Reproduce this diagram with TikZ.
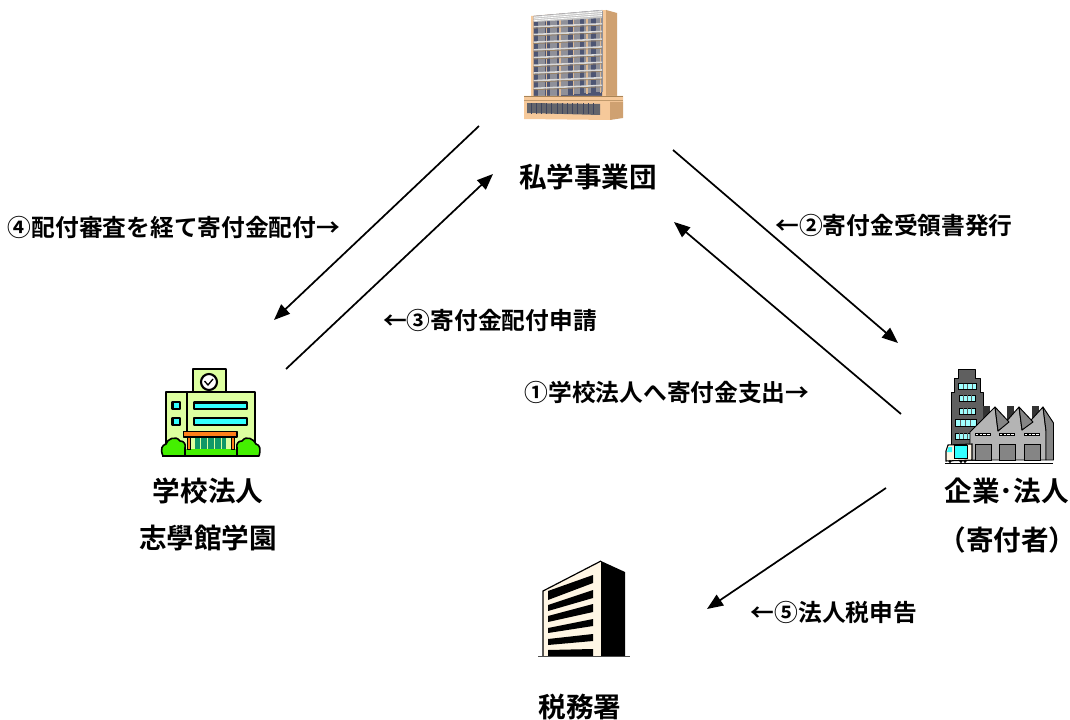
\documentclass[tikz,border=0pt]{standalone}
\usepackage{fontspec}
\usetikzlibrary{arrows.meta,calc}
\setmainfont{Noto Sans CJK JP}[BoldFont={Noto Sans CJK JP Bold}]
\definecolor{tan1}{HTML}{F6C99A}
\definecolor{tan2}{HTML}{CFA171}
\definecolor{tan3}{HTML}{A98457}
\definecolor{winblue}{HTML}{4D5573}
\definecolor{wingray}{HTML}{8F9099}
\definecolor{schoolbody}{HTML}{DDFFA0}
\definecolor{cyanwin}{HTML}{33FFFF}
\definecolor{orangeroof}{HTML}{FF7F1A}
\definecolor{doorgreen}{HTML}{109868}
\definecolor{bush}{HTML}{44F000}
\definecolor{fgray}{HTML}{5F5F5F}
\definecolor{fgray2}{HTML}{B4B4B4}
\definecolor{fgray3}{HTML}{858585}
\definecolor{lightcyan}{HTML}{9FFFFF}
\definecolor{cream}{HTML}{FFF6E4}
\tikzset{
  x=0.75pt,y=-0.75pt,
  labeltext/.style={font=\bfseries\fontsize{17.8pt}{20pt}\selectfont,inner sep=0pt,anchor=center},
  captext/.style={font=\bfseries\fontsize{20.7pt}{23pt}\selectfont,inner sep=0pt,anchor=center},
  flow/.style={draw=black,line width=1.3pt,-{Triangle[length=12pt,width=9.5pt]},shorten >=0pt},
  ol/.style={draw=black,line width=1.2pt,line join=round},
  fl/.style={draw=black,line width=0.7pt,line join=round},
}
\begin{document}
\begin{tikzpicture}
\useasboundingbox (0,0) rectangle (1070,720);
\fill[white] (0,0) rectangle (1070,720);
% --- foundation building
\fill[tan1] (531,16) -- (606,10) -- (606,97) -- (531,97) -- cycle;
\fill[tan2] (606,10) -- (617,13) -- (617,97) -- (606,97) -- cycle;
\fill[winblue] (533.5,16) -- (602,10) -- (602,97) -- (533.5,97) -- cycle;
\foreach \i in {0,...,5}{
  \fill[wingray] ({538+\i*11.5},{16-\i*0.9}) rectangle +(7,81);}
\foreach \c in {0,...,4}{
  \fill[tan1!80!gray] ({545.5+\c*13.6},{15-\c*0.9}) rectangle +(1.4,82);}
\fill[gray!45] (533.5,16) -- (602,10) -- (602,18) -- (533.5,22) -- cycle;
\foreach \i in {0,1,2}{\draw[white,line width=0.5pt] (533.5,{17.3+\i*1.7}) -- (602,{11.5+\i*2});}
\foreach \i in {0,...,8}{
  \fill[gray!30] (533.5,{26+\i*7.7}) -- (602,{23+\i*7.7}) -- (602,{24.6+\i*7.7}) -- (533.5,{27.6+\i*7.7}) -- cycle;
  \draw[tan3!60!gray,line width=0.6pt] (533.5,{28.2+\i*7.7}) -- (602,{25.2+\i*7.7});}
\fill[tan1] (524,96) -- (623,96) -- (623,102) -- (610,102) -- (610,120) -- (524,119) -- cycle;
\fill[tan2] (610,102) -- (623,102) -- (623,118) -- (610,120) -- cycle;
\fill[tan3] (524,96) rectangle (623,97);
\draw[tan3!70!tan1,line width=0.5pt] (524,100) -- (623,100);
\fill[wingray!70!black] (527,103) -- (600,104) -- (600,115) -- (527,113) -- cycle;
\foreach \i in {0,...,12}{\draw[winblue!80!black,line width=0.6pt] ({531+\i*5.2},103.5) -- ({531+\i*5.2},114);}
% --- school
\draw[ol,fill=schoolbody] (193,369) rectangle (226,393);
\draw[ol,line width=1.6pt,fill=white] (209,382) circle (8);
\draw[black,line width=1pt] (204.5,381) -- (208,385) -- (213,379);
\draw[ol,fill=schoolbody] (166,392) rectangle (255,452);
\draw[black,line width=1.4pt] (187,392) -- (187,432);
\draw[ol,line width=1.7pt,fill=cyanwin] (172.5,402) rectangle (180,409);
\draw[ol,line width=1.7pt,fill=cyanwin] (172.5,418) rectangle (180,425);
\draw[ol,line width=1.7pt,fill=cyanwin] (194,402.5) rectangle (247,409);
\draw[ol,line width=1.7pt,fill=cyanwin] (194,418) rectangle (247,425);
\fill[bush] (185,449) rectangle (238,455);
\fill[doorgreen] (193,437) rectangle (227,449);
\foreach \x in {200,207,214,221}{\draw[schoolbody,line width=0.5pt] (\x,437) -- (\x,449);}
\fill[schoolbody] (190,437) rectangle (195,449);
\fill[schoolbody] (226,437) rectangle (231,449);
\draw[black,line width=0.7pt,fill=orangeroof] (187,437) rectangle (190.5,449);
\draw[black,line width=0.7pt,fill=orangeroof] (231,437) rectangle (234.5,449);
\draw[ol,fill=orangeroof] (183.5,431.5) rectangle (237,437);
\draw[ol,fill=bush] (163,456) .. controls (160,449) and (162,445) .. (166,444)
  .. controls (167,439) and (176,435) .. (180,441)
  .. controls (184,441) and (186,444) .. (185,448) -- (185,456) -- cycle;
\draw[ol,fill=bush] (259,456) .. controls (261,449) and (260,445) .. (256,444)
  .. controls (254,439) and (246,435) .. (242,441)
  .. controls (238,441) and (236,444) .. (237,448) -- (237,456) -- cycle;
\draw[black,line width=1.8pt] (162,456) -- (259,456);
% --- factory
\draw[fl,fill=fgray] (958,369) -- (975,369) -- (975,378) -- (980,378) -- (980,392) -- (983,392) -- (983,460) -- (951,460) -- (951,392) -- (954,392) -- (954,378) -- (958,378) -- cycle;
\foreach \a/\b/\c/\d in {958.5/383.5/976.5/389,959/395/975/401,959/408/975/414,955/419.5/976/426,955/433/972/439}{
  \draw[black,line width=0.5pt,fill=lightcyan] (\a,\b) rectangle (\c,\d);
  \foreach \t in {0.25,0.5,0.75}{\draw[fgray,line width=0.5pt] ($(\a,\b)!\t!(\c,\b)$) -- ($(\a,\d)!\t!(\c,\d)$);}
}
\foreach \x in {983,1007,1032}{\fill[black!80] (\x,406) rectangle +(6.5,16);}
\draw[fl,fill=fgray2] (970,432) -- (995,407) -- (998,431) -- (1019,407) -- (1022,430) -- (1043,407) -- (1046,431) -- (1046,460) -- (970,460) -- cycle;
\draw[fl,fill=fgray3] (995,407) -- (1009,422) -- (998,431) -- cycle;
\draw[fl,fill=fgray3] (1019,407) -- (1033,422) -- (1022,430) -- cycle;
\draw[fl,fill=fgray3] (1043,407) -- (1053.5,423) -- (1053.5,460) -- (1046,460) -- (1046,431) -- cycle;
\foreach \x in {975,999,1024}{
  \fill[black] (\x,433) rectangle +(15.5,3);
  \foreach \k in {0,1,2,3}{\fill[white] ({\x+1+\k*3.7},434) rectangle +(2.4,1.2);}
  \draw[black,line width=0.6pt,fill=fgray3] (\x,444) rectangle +(16.5,16);
}
\draw[black,line width=0.8pt,fill=cream] (948,445) -- (972,444) -- (972,460) -- (946,461) -- (946,451) -- cycle;
\draw[black,line width=0.5pt,fill=cyanwin] (954,445) rectangle (967,458);
\fill[cyanwin] (948.5,447) -- (952,447) -- (952,452) -- (947,452) -- cycle;
\fill[black] (950,461.5) circle (1.6) (961,461.5) circle (1.6) (965,461.5) circle (1.6);
\draw[black,line width=0.7pt] (945,463) -- (1053,463);
% --- tax office
\fill[cream] (543,591) -- (601,561) -- (601,656) -- (543,656) -- cycle;
\fill[black] (601,561) -- (625,572) -- (625,656) -- (601,656) -- cycle;
\draw[black,line width=0.9pt] (543,656) -- (543,591) -- (601,561);
\foreach \a/\b/\c/\d in {591/600/575/583,605/611/590/598,616/622/604/612,628/633/619/626,639/645/634/641,650/656/649/656}{
  \fill[black] (548,\a) -- (593,\c) -- (593,\d) -- (548,\b) -- cycle;}
\draw[gray!60!black,line width=1.4pt] (538,656.5) -- (630,656.5);
% --- captions and labels
\node[captext] (jigyodan) at (588,177) {私学事業団};
\node[captext] (gakko1) at (208,491) {学校法人};
\node[captext] (gakko2) at (208,538) {志學館学園};
\node[captext] (kigyo1) at (1006.5,491) {企業･法人};
\node[captext] (kigyo2) at (1007.5,540) {\hspace*{-0.45em}（寄付者）\hspace*{-0.45em}};
\node[captext] (zeimu) at (580,707) {税務署};
\node[labeltext] (l4) at (174,227) {④配付審査を経て寄付金配付→};
\node[labeltext] (l3) at (490,320) {←③寄付金配付申請};
\node[labeltext] (l2) at (894,225) {←②寄付金受領書発行};
\node[labeltext] (l1) at (667,392) {①学校法人へ寄付金支出→};
\node[labeltext] (l5) at (834,612) {←⑤法人税申告};
% --- connectors
\coordinate (a1) at (479,126); \coordinate (a2) at (274,320);
\coordinate (b1) at (286,369); \coordinate (b2) at (493,174);
\coordinate (c1) at (673,150); \coordinate (c2) at (898,343);
\coordinate (d1) at (901,414); \coordinate (d2) at (674,222);
\coordinate (e1) at (886,488); \coordinate (e2) at (707,609);
\draw[flow] (a1) -- (a2);
\draw[flow] (b1) -- (b2);
\draw[flow] (c1) -- (c2);
\draw[flow] (d1) -- (d2);
\draw[flow] (e1) -- (e2);
\end{tikzpicture}
\end{document}
